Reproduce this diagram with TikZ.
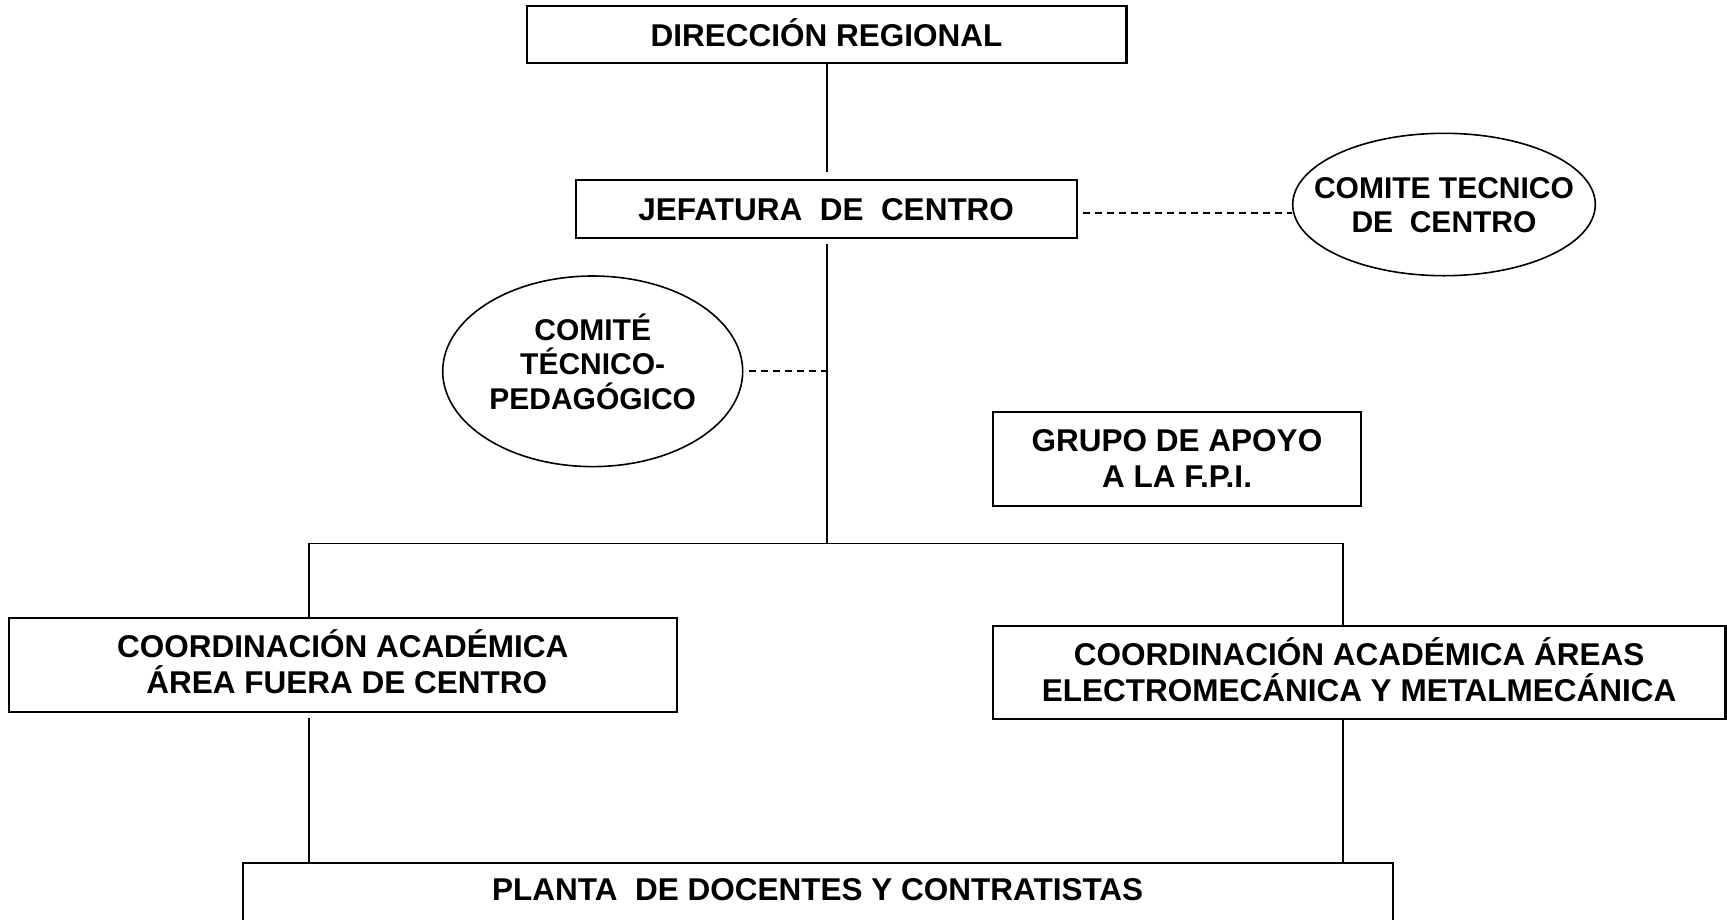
\documentclass[tikz,border=0pt]{standalone}
\usepackage{fontspec}
\setmainfont{Liberation Sans}
\usetikzlibrary{shapes.geometric,calc}
\begin{document}
\begin{tikzpicture}[x=1pt,y=-1pt,
  box/.style={draw, line width=2.2pt, rectangle, inner sep=0pt, align=center,
     font=\bfseries\fontsize{31.5}{36.5}\selectfont, text height=23pt},
  oneline/.style={text depth=0pt},
  twoline/.style={text height=58pt, text depth=0pt},
  oval/.style={draw, line width=1.6pt, ellipse, inner sep=-40pt, align=center,
     font=\bfseries\fontsize{30}{34.5}\selectfont},
  link/.style={line width=1.9pt},
  dashlink/.style={line width=1.8pt, dash pattern=on 7pt off 5pt},
]
\useasboundingbox (0,0) rectangle (1727,919);
\clip (0,0) rectangle (1727,919);

\node[box, oneline, minimum width=599.8pt, minimum height=57.6pt] (dr) at (826.6,34.5) {DIRECCIÓN REGIONAL};
\node[box, oneline, minimum width=500.8pt, minimum height=58pt] (jc) at (826.2,209) {JEFATURA\ \ DE\ \ CENTRO};
\node[oval, minimum width=302.6pt, minimum height=142.4pt, text height=56pt, text depth=0pt] (ctc) at (1444,204.5) {COMITE TECNICO\\DE\ \ CENTRO};
\node[oval, minimum width=300pt, minimum height=190.6pt, text height=91pt, text depth=15pt] (ctp) at (592.7,371.3) {COMITÉ\\TÉCNICO-\\PEDAGÓGICO};
\node[box, twoline, minimum width=368.6pt, minimum height=94.3pt] (gap) at (1177,458.85) {GRUPO DE APOYO\\A LA F.P.I.};
\node[box, twoline, minimum width=668.4pt, minimum height=94pt] (cl) at (342.8,664.7) {COORDINACIÓN ACADÉMICA\\\hspace*{8pt}ÁREA FUERA DE CENTRO};
\node[box, twoline, minimum width=732.8pt, minimum height=93.3pt] (cr) at (1359.1,672.65) {COORDINACIÓN ACADÉMICA ÁREAS\\ELECTROMECÁNICA Y METALMECÁNICA};
\node[box, anchor=north, minimum width=1150pt, text depth=40pt, inner ysep=15pt] (pl) at (817.7,861.7) {PLANTA\ \ DE DOCENTES Y CONTRATISTAS};

\coordinate (hub) at (826.6,543.5);
\coordinate (hl) at (308.8,543.5);
\coordinate (hr) at (1342.7,543.5);

\draw[link, shorten >=7pt] (dr.south) -- (dr.south |- jc.north);
\draw[link, shorten <=5pt] (hub |- jc.south) -- (hub);
\draw[link] (hl |- cl.north) -- (hl) -- (hr) -- (hr |- cr.north);
\draw[link, shorten <=5pt] (hl |- cl.south) -- (hl |- pl.north);
\draw[link] (hr |- cr.south) -- (hr |- pl.north);

\draw[dashlink] (jc.east) ++(5,3.7) coordinate (dj) -- (dj -| ctc.west);
\draw[dashlink] (ctp.east) ++(5.6,0) coordinate (dp) -- (hub |- dp);
\end{tikzpicture}
\end{document}
